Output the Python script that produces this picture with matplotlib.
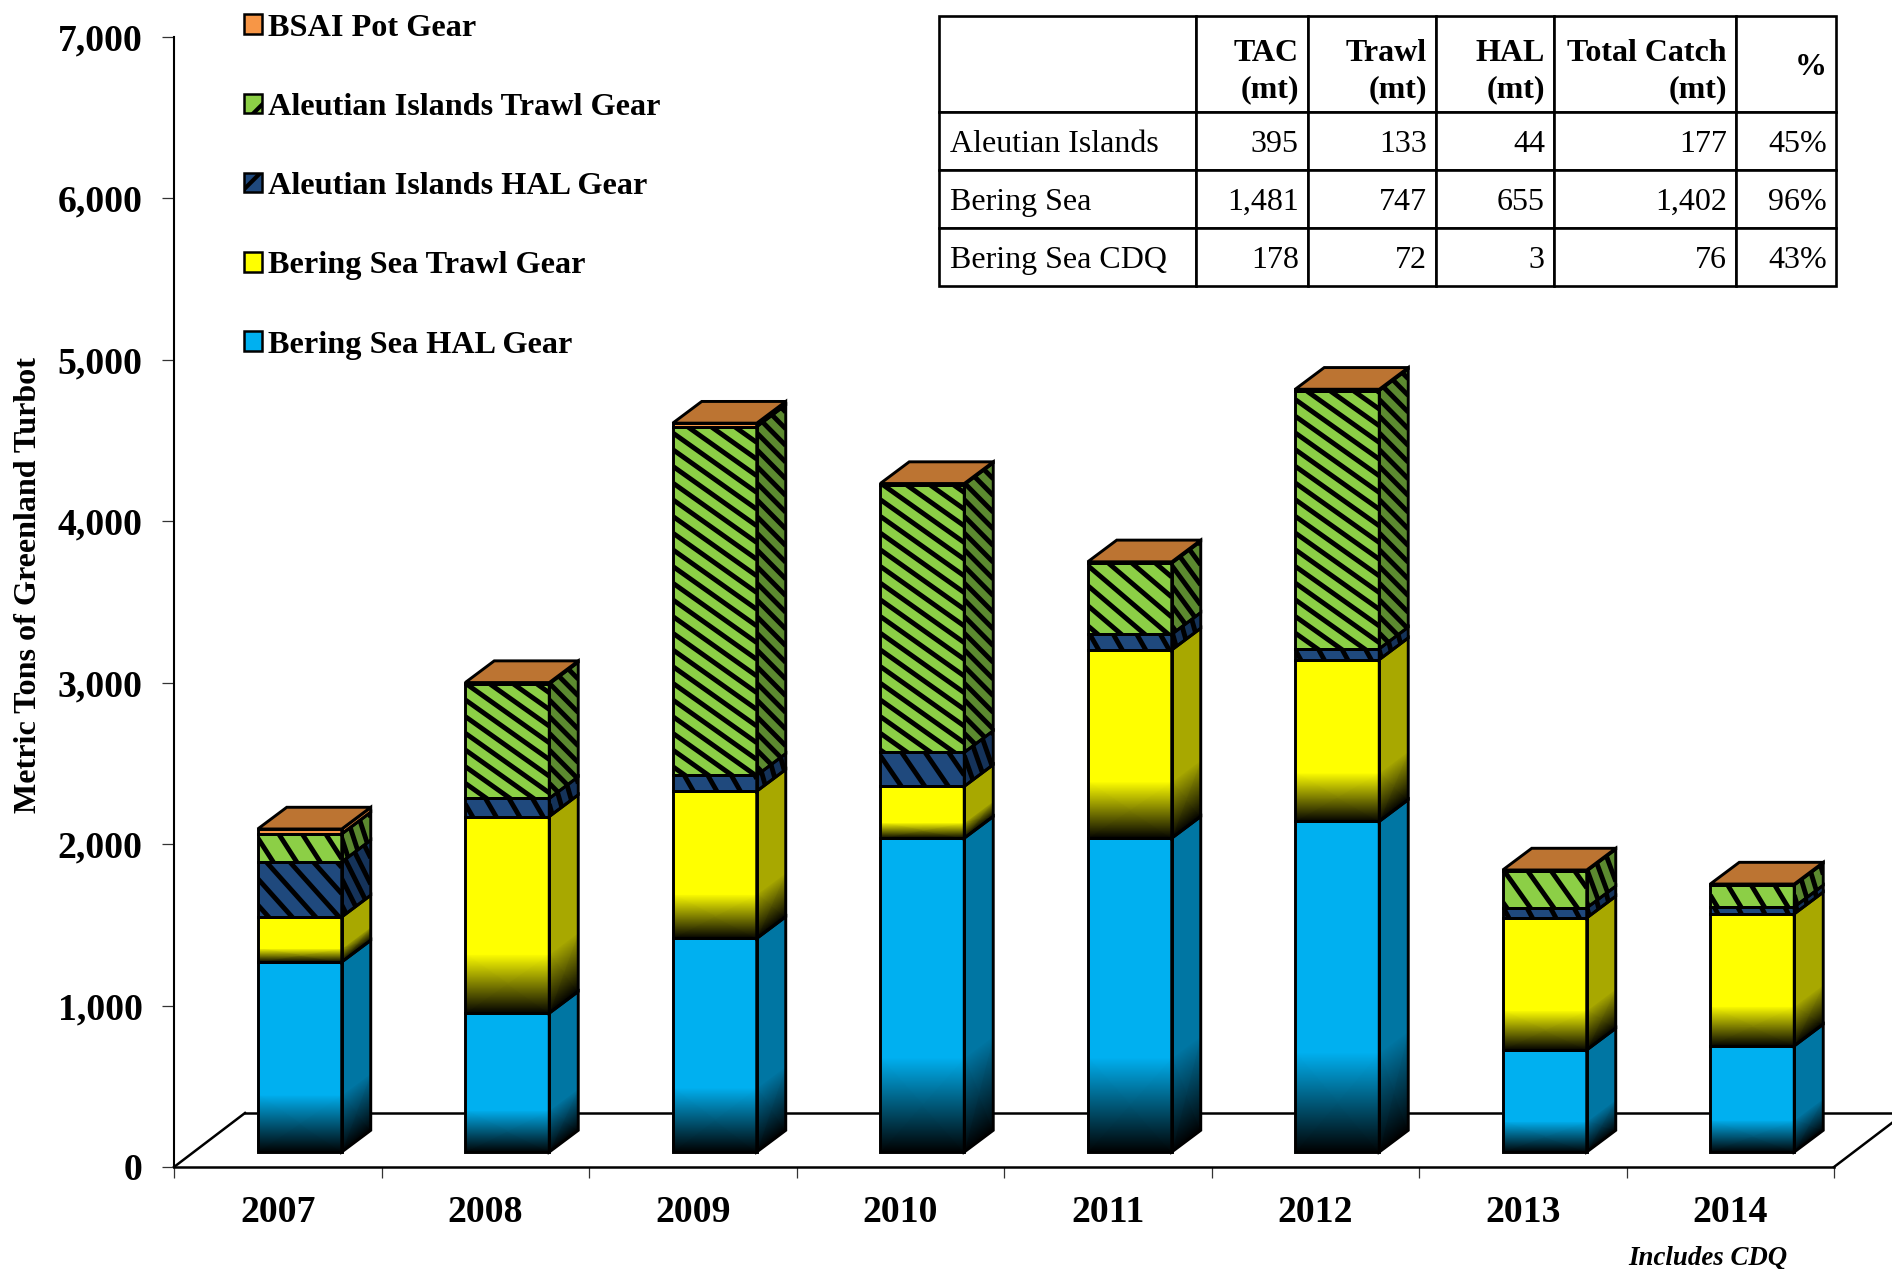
import numpy as np
import matplotlib
matplotlib.use("Agg")
import matplotlib.pyplot as plt
from matplotlib.collections import LineCollection
from matplotlib.colors import LinearSegmentedColormap
from matplotlib.patches import Patch, Polygon

plt.rcParams['font.family'] = ['Liberation Serif', 'DejaVu Serif']
plt.rcParams['hatch.linewidth'] = 3.0

# data, metric tons
years = ["2007", "2008", "2009", "2010", "2011", "2012", "2013", "2014"]
bs_hal = [1177, 860, 1323, 1944, 1944, 2048, 632, 657]
bs_trawl = [279, 1218, 912, 321, 1166, 1002, 818, 818]
ai_hal = [341, 112, 98, 210, 97, 67, 62, 43]
ai_trawl = [173, 710, 2160, 1659, 441, 1600, 229, 136]
pot = [31, 8, 22, 7, 8, 8, 6, 6]

names = ["Bering Sea HAL Gear", "Bering Sea Trawl Gear", "Aleutian Islands HAL Gear",
         "Aleutian Islands Trawl Gear", "BSAI Pot Gear"]
series = [bs_hal, bs_trawl, ai_hal, ai_trawl, pot]
front_colors = ["#00B0F0", "#FFFF00", "#1F497D", "#8CCF46", "#F79646"]
side_colors = ["#0076A3", "#A8A800", "#15335A", "#5C8A30", "#C0702E"]
has_fade = [True, True, False, False, False]
has_stripes = [False, False, True, True, False]
top_color = "#BC7432"

table_rows = [["", "TAC\n(mt)", "Trawl\n(mt)", "HAL\n(mt)", "Total Catch\n(mt)", "%"],
              ["Aleutian Islands", "395", "133", "44", "177", "45%"],
              ["Bering Sea", "1,481", "747", "655", "1,402", "96%"],
              ["Bering Sea CDQ", "178", "72", "3", "76", "43%"]]

W, H = 1892, 1269
fig = plt.figure(figsize=(W / 100, H / 100), dpi=100)

# plot area in pixels: x 174-1834, y 37-1167
ax = fig.add_axes([174 / W, 1 - 1167 / H, 1660 / W, 1130 / H])
PX_X = 8 / 1660
PX_Y = 7000 / 1130

# projection of the 3d look
floor_dx, floor_dy = 71 * PX_X, 54 * PX_Y
front_dx, front_dy = 22 * PX_X, 15 * PX_Y
depth_dx, depth_dy = 29 * PX_X, 21.7 * PX_Y
bar_w = 84 * PX_X
EDGE = 2.1


def draw_stripes(pts, slope, vspace):
    # black diagonal stripes clipped to one face, slope in px/px
    clip = Polygon(pts, closed=True, facecolor='none', edgecolor='none', zorder=1)
    ax.add_patch(clip)
    xa, xb = pts[:, 0].min(), pts[:, 0].max()
    ya, yb = pts[:, 1].min(), pts[:, 1].max()
    k = slope * PX_Y / PX_X
    step = vspace * PX_Y
    segs = []
    start = np.floor(ya / step) * step
    c = start
    while c < yb + k * (xb - xa) + step:
        segs.append([(xa, c), (xb, c - k * (xb - xa))])
        c += step
    lc = LineCollection(segs, colors='black', linewidths=3.5, zorder=1.5)
    ax.add_collection(lc)
    lc.set_clip_path(clip)


def fade_face(X, Y, color):
    # bottom 30% of the segment goes to black
    cm = LinearSegmentedColormap.from_list("fade", ["black", color])
    C = np.array([[0, 0], [1, 1], [1, 1]])
    ax.pcolormesh(X, Y, C, shading='gouraud', cmap=cm, vmin=0, vmax=1, zorder=1)


for i in range(len(years)):
    x0 = i + 0.5 + front_dx - bar_w / 2
    x1 = x0 + bar_w
    bottom = front_dy
    for s in range(len(series)):
        val = series[s][i]
        y0, y1 = bottom, bottom + val
        front = np.array([(x0, y0), (x1, y0), (x1, y1), (x0, y1)])
        side = np.array([(x1, y0), (x1 + depth_dx, y0 + depth_dy),
                         (x1 + depth_dx, y1 + depth_dy), (x1, y1)])
        if has_fade[s]:
            ym = y0 + 0.3 * val
            fade_face(np.array([[x0, x1]] * 3),
                      np.array([[y0, y0], [ym, ym], [y1, y1]]), front_colors[s])
            fade_face(np.array([[x1, x1 + depth_dx]] * 3),
                      np.array([[y0, y0 + depth_dy], [ym, ym + depth_dy], [y1, y1 + depth_dy]]),
                      side_colors[s])
        else:
            ax.add_patch(Polygon(front, closed=True, facecolor=front_colors[s], edgecolor='none', zorder=1))
            ax.add_patch(Polygon(side, closed=True, facecolor=side_colors[s], edgecolor='none', zorder=1))
        if has_stripes[s]:
            h_px = val / PX_Y
            slope = 0.71 + 1.3 * max(0, 1 - h_px / 80)
            vspace = 23.5 * slope
            draw_stripes(front, slope, vspace)
            draw_stripes(side, slope / 0.41 - 0.72, vspace)
        ax.add_patch(Polygon(front, closed=True, facecolor='none', edgecolor='black', linewidth=EDGE, zorder=2))
        ax.add_patch(Polygon(side, closed=True, facecolor='none', edgecolor='black', linewidth=EDGE, zorder=2))
        bottom = y1
    top = np.array([(x0, bottom), (x1, bottom), (x1 + depth_dx, bottom + depth_dy),
                    (x0 + depth_dx, bottom + depth_dy)])
    ax.add_patch(Polygon(top, closed=True, facecolor=top_color, edgecolor='black', linewidth=EDGE, zorder=2))

# floor
floor_kw = dict(color='black', linewidth=1.8, clip_on=False, zorder=0.5)
ax.plot([0, floor_dx], [0, floor_dy], **floor_kw)
ax.plot([floor_dx, 8 + floor_dx], [floor_dy, floor_dy], **floor_kw)
ax.plot([8, 8 + floor_dx], [0, floor_dy], **floor_kw)

ax.set_xlim(0, 8)
ax.set_ylim(0, 7000)
ax.patch.set_visible(False)
for side_name in ['top', 'right']:
    ax.spines[side_name].set_visible(False)
ax.spines['left'].set_linewidth(1.5)
ax.spines['bottom'].set_linewidth(1.8)

ax.set_yticks(np.arange(0, 7001, 1000))
ax.set_yticklabels([f"{v:,}" for v in range(0, 7001, 1000)], fontsize=27.2, fontweight='bold')
ax.tick_params(axis='y', length=8.5, width=0.9, pad=14, color='#333333')
ax.set_xticks(np.arange(0, 9))
ax.set_xticklabels([])
ax.tick_params(axis='x', which='major', length=8, width=0.9, color='#333333')
ax.set_xticks(np.arange(8) + 0.5, minor=True)
ax.set_xticklabels(years, minor=True, fontsize=27.2, fontweight='bold')
ax.tick_params(axis='x', which='minor', length=0, pad=20)

fig.text(29 / W, 1 - 585 / H, "Metric Tons of Greenland Turbot", rotation=90, fontsize=23.1,
         fontweight='bold', ha='center', va='center')
fig.text(1708 / W, 1 - 1258 / H, "Includes CDQ", fontsize=19.4, fontweight='bold', style='italic',
         ha='center', va='center')

# legend, top entry first
handles = []
for s in range(4, -1, -1):
    hatch = '/' if has_stripes[s] else None
    handles.append(Patch(facecolor=front_colors[s], edgecolor='black', linewidth=1.8, hatch=hatch, label=names[s]))
leg = fig.legend(handles=handles, loc='upper left', bbox_to_anchor=(244 / W, 1 - 13.5 / H),
                 bbox_transform=fig.transFigure, frameon=False, prop=dict(size=23.2, weight='bold'),
                 handlelength=0.56, handleheight=0.56, handletextpad=0.18, labelspacing=1.56,
                 borderpad=0, borderaxespad=0)

# table
col_px = np.array([213, 93, 106, 98, 151, 83]) * 1.2066
row_px = [80, 48, 48, 48]
tax = fig.add_axes([939 / W, 1 - 286 / H, 897 / W, 270 / H])
tax.axis('off')
tbl = tax.table(cellText=table_rows, colWidths=list(col_px / col_px.sum()), bbox=[0, 0, 1, 1], cellLoc='right')
tbl.auto_set_font_size(False)
tbl.set_fontsize(23)
for (r, c), cell in tbl.get_celld().items():
    cell.set_height(row_px[r])
    cell.set_linewidth(1.9)
    cell.set_edgecolor('black')
    txt = cell.get_text()
    txt.set_multialignment('right')
    txt.set_linespacing(1.36)
    if c == 0:
        cell.PAD = 11 / col_px[c]
        txt.set_ha('left')
    else:
        cell.PAD = 9 / col_px[c]
    if r == 0:
        txt.set_fontweight('bold')
        txt.set_va('center_baseline')
    else:
        txt.set_va('center_baseline')

fig.savefig("out.png", dpi=100)
